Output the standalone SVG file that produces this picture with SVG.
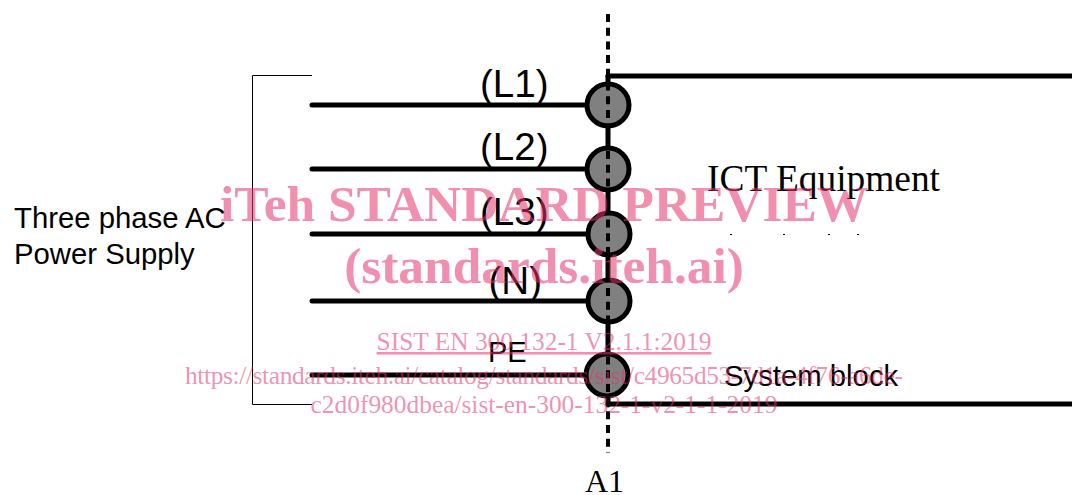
<svg xmlns="http://www.w3.org/2000/svg" width="1072" height="495" viewBox="0 0 1072 495">
<style>
.s{font-family:"Liberation Sans",Arial,sans-serif;fill:#000}
.t{font-family:"Liberation Serif","Times New Roman",serif;fill:#000}
.w{font-family:"Liberation Serif","Times New Roman",serif;fill:#e3336c;fill-opacity:.55;text-anchor:middle}
.b{font-weight:bold;font-size:51.4px}
.u{font-size:25.4px}
.h{fill:none;stroke:#000;stroke-width:5;stroke-linecap:round}
.n{fill:#808080;stroke:#000;stroke-width:5}
</style>
<defs>
<clipPath id="c1"><rect x="470" y="68" width="90" height="40"/></clipPath>
<clipPath id="c2"><rect x="470" y="133" width="90" height="40"/></clipPath>
<clipPath id="c3"><rect x="470" y="197" width="90" height="40"/></clipPath>
<clipPath id="c4"><rect x="470" y="264" width="90" height="40"/></clipPath>
</defs>
<rect width="1072" height="495" fill="#fff"/>
<g id="labels-phase">
<text class="s" x="480" y="97" font-size="38.6" clip-path="url(#c1)">(L1)</text>
<text class="s" x="480" y="160" font-size="38.6" clip-path="url(#c2)">(L2)</text>
<text class="s" x="480" y="225" font-size="38.6" clip-path="url(#c3)">(L3)</text>
<text class="s" x="488.5" y="294" font-size="38.6" clip-path="url(#c4)">(N)</text>
<text class="s" x="488" y="362" font-size="29">PE</text>
</g>
<g id="connectors">
<path class="h" d="M608 76V405"/>
<path class="h" d="M608 76H1072"/>
<path class="h" d="M608 404H1072"/>
<path class="h" d="M312 105H590"/>
<path class="h" d="M312 169H590"/>
<path class="h" d="M312 234H590"/>
<path class="h" d="M312 301H590"/>
<path class="h" d="M312 375H590"/>
<path d="M312 75.5H252.500V404.500H312" fill="none" stroke="#000" stroke-width="1"/>
</g>
<g id="node-l1"><circle class="n" cx="608" cy="105" r="21"/></g>
<g id="node-l2"><circle class="n" cx="608" cy="169" r="21"/></g>
<g id="node-l3"><circle class="n" cx="609" cy="234" r="21"/></g>
<g id="node-n"><circle class="n" cx="609" cy="301" r="21"/></g>
<g id="node-pe"><circle class="n" cx="607" cy="375" r="21"/></g>
<g id="axis"><path d="M608 14V453" fill="none" stroke="#000" stroke-width="4" stroke-dasharray="8 5.7"/></g>
<g id="supply"><text class="s" x="14" y="228" font-size="29.3">Three phase AC</text>
<text class="s" x="14" y="264" font-size="29.3">Power Supply</text></g>
<g id="equipment"><text class="t" x="707" y="191" font-size="37.4">ICT Equipment</text>
<path d="M730 234h2v1h-2zM783 234h2v1h-2zM828 234h2v1h-2zM857 234h2v1h-2z" fill="#000"/></g>
<g id="system"><text class="s" x="724" y="386" font-size="29.3">System block</text></g>
<g id="a1"><text class="t" x="585" y="492" font-size="32">A1</text></g>
<g id="watermark">
<text class="w b" x="544" y="221">iTeh STANDARD PREVIEW</text>
<text class="w b" x="544" y="283">(standards.iteh.ai)</text>
<text class="w u" x="544" y="350" text-decoration="underline">SIST EN 300 132-1 V2.1.1:2019</text>
<text class="w u" x="544" y="384" textLength="718" lengthAdjust="spacing">https://standards.iteh.ai/catalog/standards/sist/c4965d53-7d1a-4f76-a6de-</text>
<text class="w u" x="544" y="413">c2d0f980dbea/sist-en-300-132-1-v2-1-1-2019</text>
</g>
</svg>
